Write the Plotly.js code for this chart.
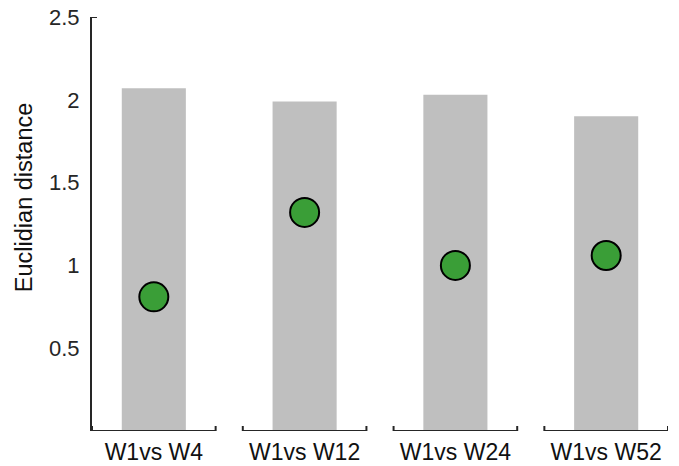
<!DOCTYPE html>
<html>
<head>
<meta charset="utf-8">
<script src="https://cdn.plot.ly/plotly-3.0.1.min.js"></script>
<style>html,body{margin:0;padding:0;background:#fff;}#chart{width:679px;height:466px;}</style>
</head>
<body>
<div id="chart"></div>
<script>
var categories = ["W1vs W4", "W1vs W12", "W1vs W24", "W1vs W52"];
var barValues = [2.07, 1.99, 2.03, 1.90];
var dotValues = [0.81, 1.32, 1.00, 1.06];
var yTickVals = [0.5, 1, 1.5, 2, 2.5];
var yTickText = ["0.5", "1", "1.5", "2", "2.5"];
var yTitle = "Euclidian distance";

var idx = categories.map(function (c, i) { return i; });
var axisColor = "#262626";
var fontFam = "Liberation Sans, Arial, sans-serif";

var traces = [
  {
    type: "bar",
    x: idx,
    y: barValues,
    width: 0.425,
    marker: { color: "#bfbfbf", line: { width: 0 } },
    hoverinfo: "skip"
  },
  {
    type: "scatter",
    mode: "markers",
    x: idx,
    y: dotValues,
    marker: { size: 29, color: "#3a9e37", line: { color: "#000000", width: 2 } },
    hoverinfo: "skip"
  }
];

var half = 0.41;
var shapes = [];
idx.forEach(function (i) {
  shapes.push({ type: "line", xref: "x", yref: "y", x0: i - half, x1: i + half, y0: 0, y1: 0,
    line: { color: axisColor, width: 2 } });
  [i - half, i + half].forEach(function (xe) {
    shapes.push({ type: "line", xref: "x", yref: "y", ysizemode: "pixel", yanchor: 0,
      x0: xe, x1: xe, y0: 0, y1: 5, line: { color: axisColor, width: 2 } });
  });
});
// cap at top of y axis
shapes.push({ type: "line", xref: "x", yref: "y", xsizemode: "pixel", xanchor: -half,
  x0: 0, x1: 5, y0: 2.5, y1: 2.5, line: { color: axisColor, width: 2 } });

var layout = {
  width: 679,
  height: 466,
  margin: { l: 92, r: 11, t: 17, b: 35, pad: 0 },
  paper_bgcolor: "#ffffff",
  plot_bgcolor: "#ffffff",
  showlegend: false,
  font: { family: fontFam, size: 22, color: "#262626" },
  xaxis: {
    range: [-half, 3 + half],
    tickmode: "array",
    tickvals: idx,
    ticktext: categories,
    showline: false,
    showgrid: false,
    zeroline: false,
    ticks: "",
    ticklabelstandoff: 5,
    tickfont: { family: fontFam, size: 23, color: "#111111" },
    fixedrange: true
  },
  yaxis: {
    range: [0, 2.5],
    tickmode: "array",
    tickvals: yTickVals,
    ticktext: yTickText,
    showline: true,
    linecolor: axisColor,
    linewidth: 2,
    showgrid: false,
    zeroline: false,
    ticks: "",
    ticklabelstandoff: 6,
    tickfont: { family: fontFam, size: 22, color: "#262626" },
    fixedrange: true
  },
  annotations: [{
    text: yTitle,
    xref: "paper", yref: "paper",
    x: -0.118, y: 0.5625,
    xanchor: "center", yanchor: "middle",
    textangle: -90,
    showarrow: false,
    font: { family: fontFam, size: 23.5, color: "#111111" }
  }],
  shapes: shapes
};

Plotly.newPlot("chart", traces, layout, { displayModeBar: false, staticPlot: true });
</script>
</body>
</html>
